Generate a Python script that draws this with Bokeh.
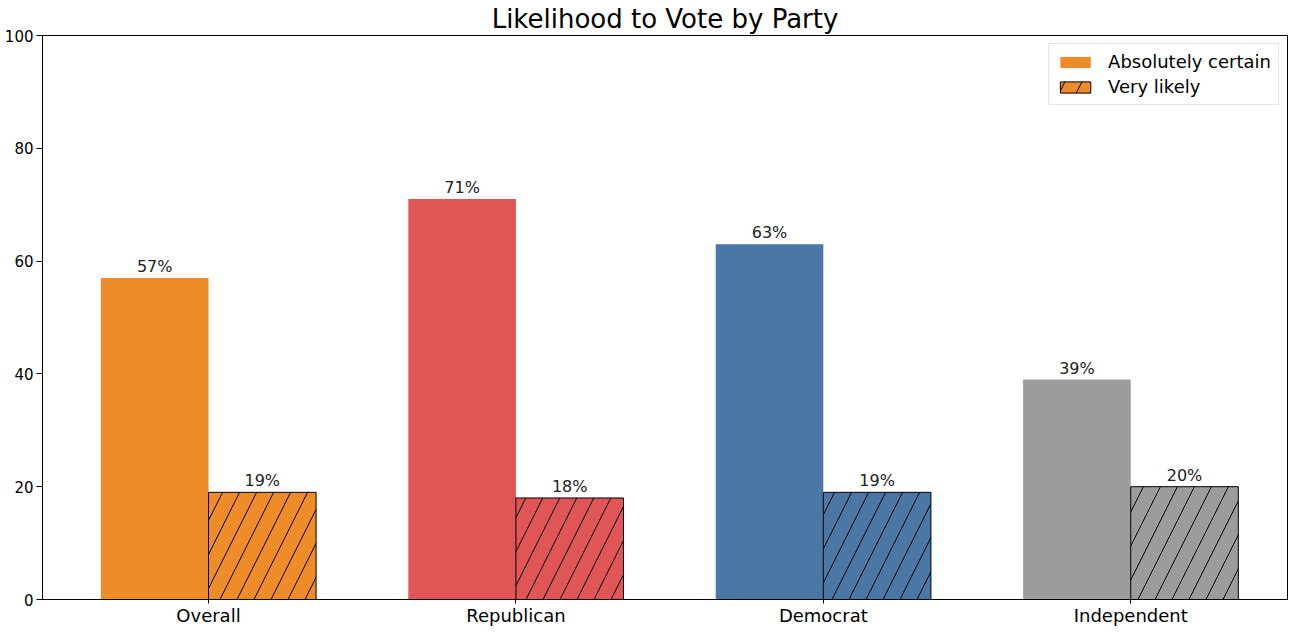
from bokeh.plotting import figure
from bokeh.models import ColumnDataSource, FixedTicker, Legend, LegendItem, Range1d
from bokeh.embed import file_html
from bokeh.resources import INLINE
from bokeh.core.properties import value

categories = ["Overall", "Republican", "Democrat", "Independent"]
absolutely_certain = [57, 71, 63, 39]
very_likely = [19, 18, 19, 20]
colors = ["#ef8c2a", "#e05556", "#4a77a5", "#9c9c9c"]
title_text = "Likelihood to Vote by Party"
y_ticks = [0, 20, 40, 60, 80, 100]

idx = list(range(len(categories)))
w = 0.35
src_a = ColumnDataSource(dict(
    x=[i - w / 2 for i in idx], top=absolutely_certain, color=colors,
    label=[f"{v}%" for v in absolutely_certain]))
src_b = ColumnDataSource(dict(
    x=[i + w / 2 for i in idx], top=very_likely, color=colors,
    label=[f"{v}%" for v in very_likely]))

FONT = "DejaVu Sans"

p = figure(width=1289, height=628, output_backend="svg", toolbar_location=None,
           x_range=Range1d(-0.54, 3.51), y_range=Range1d(0, 100),
           min_border_left=42, min_border_right=2, min_border_top=0, min_border_bottom=20,
           title=title_text)
p.title.align = "center"
p.title.text_font = FONT
p.title.text_font_size = "26px"
p.title.text_font_style = "normal"
p.title.text_color = "#000000"
p.title.standoff = 3
p.title.offset = 0

p.grid.visible = False
p.outline_line_color = "#000000"
p.outline_line_width = 1
p.background_fill_color = "white"
p.border_fill_color = "white"

ra = p.vbar(x="x", top="top", width=w, source=src_a, fill_color="color", line_color="color", line_width=0)
rb = p.vbar(x="x", top="top", width=w, source=src_b, fill_color="color", line_color="black", line_width=1,
            hatch_pattern="/", hatch_color="black", hatch_weight=1, hatch_scale=34)

for s in (src_a, src_b):
    p.text(x="x", y="top", text="label", source=s, text_align="center", text_baseline="bottom",
           y_offset=-2, text_font=value(FONT), text_font_size="16px", text_color="#222222")

p.xaxis.ticker = FixedTicker(ticks=idx)
p.xaxis.major_label_overrides = {i: c for i, c in zip(idx, categories)}
p.xaxis.minor_tick_line_color = None
p.xaxis.major_label_text_font = FONT
p.xaxis.major_label_text_font_size = "18px"
p.xaxis.major_label_text_color = "#000000"
p.xaxis.major_label_standoff = 1
p.xaxis.major_tick_out = 4
p.xaxis.major_tick_in = 0
p.xaxis.axis_line_color = "#000000"

p.yaxis.ticker = FixedTicker(ticks=y_ticks)
p.yaxis.minor_tick_line_color = None
p.yaxis.major_label_text_font = FONT
p.yaxis.major_label_text_font_size = "15px"
p.yaxis.major_label_text_color = "#000000"
p.yaxis.major_label_standoff = 3
p.yaxis.major_tick_out = 6
p.yaxis.major_tick_in = 0
p.yaxis.axis_line_color = "#000000"

legend = Legend(items=[
    LegendItem(label="Absolutely certain", renderers=[ra], index=0),
    LegendItem(label="Very likely", renderers=[rb], index=0),
], location="top_right")
legend.label_text_font = FONT
legend.label_text_font_size = "18px"
legend.label_text_color = "#000000"
legend.glyph_width = 38
legend.glyph_height = 14
legend.spacing = 4
legend.padding = 7
legend.margin = 8
legend.label_standoff = 14
legend.border_line_color = "#cccccc"
legend.border_line_width = 1
legend.background_fill_alpha = 0.85
p.add_layout(legend)

open("out.html", "w").write(file_html(p, INLINE))
